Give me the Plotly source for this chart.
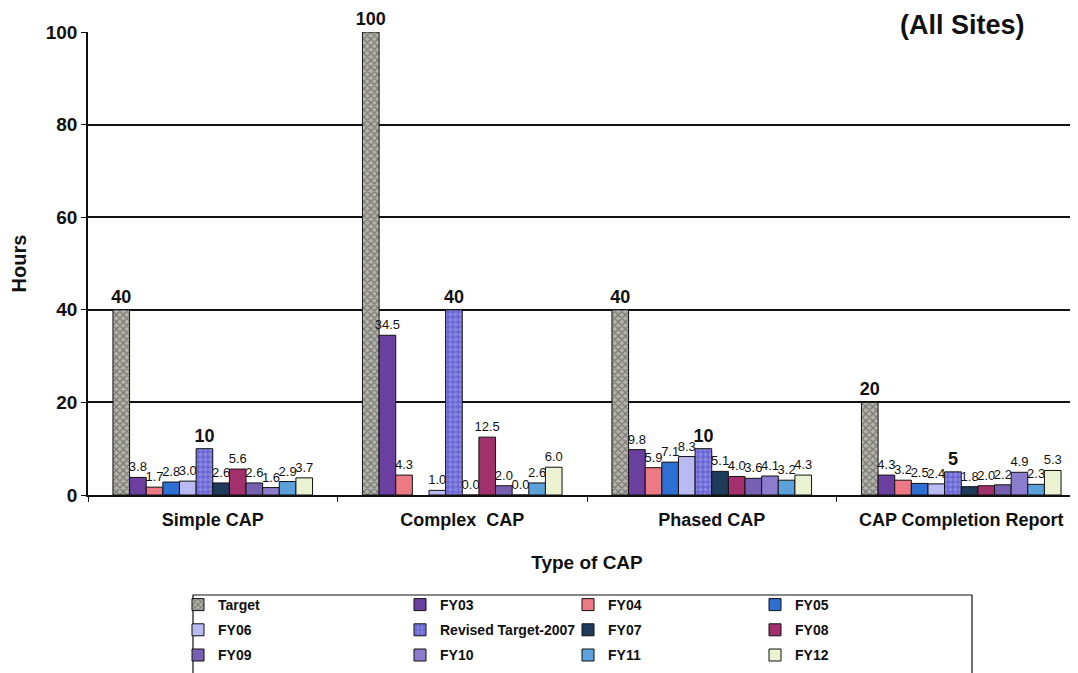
import plotly.graph_objects as go

# ── Data ──────────────────────────────────────────────────────────────────────
categories = ["Simple CAP", "Complex  CAP", "Phased CAP", "CAP Completion Report"]

target = [40, 100, 40, 20]
fy03 = [3.8, 34.5, 9.8, 4.3]
fy04 = [1.7, 4.3, 5.9, 3.2]
fy05 = [2.8, None, 7.1, 2.5]
fy06 = [3.0, 1.0, 8.3, 2.4]
revised_2007 = [10, 40, 10, 5]
fy07 = [2.6, 0.0, 5.1, 1.8]
fy08 = [5.6, 12.5, 4.0, 2.0]
fy09 = [2.6, 2.0, 3.6, 2.2]
fy10 = [1.6, 0.0, 4.1, 4.9]
fy11 = [2.9, 2.6, 3.2, 2.3]
fy12 = [3.7, 6.0, 4.3, 5.3]

FONT = "Liberation Sans, Arial, sans-serif"

# name, values, colour, pattern (shape, fg) or None, bold label, legend column
series = [
    ("Target", target, "#b4b4ac", ("x", "#3c3c3c"), True, "legend"),
    ("FY03", fy03, "#6a3fa0", None, False, "legend2"),
    ("FY04", fy04, "#ec7a84", None, False, "legend3"),
    ("FY05", fy05, "#2d6fd2", None, False, "legend4"),
    ("FY06", fy06, "#b9baf2", None, False, "legend"),
    ("Revised Target-2007", revised_2007, "#6b68d4", (".", "#a4a4f0"), True, "legend2"),
    ("FY07", fy07, "#1f3b5c", None, False, "legend3"),
    ("FY08", fy08, "#a2306c", None, False, "legend4"),
    ("FY09", fy09, "#7660b2", None, False, "legend"),
    ("FY10", fy10, "#8c7cce", None, False, "legend2"),
    ("FY11", fy11, "#5ba2da", None, False, "legend3"),
    ("FY12", fy12, "#eaf2d2", None, False, "legend4"),
]


def _label(v, bold):
    if v is None:
        return ""
    return f"{v:g}" if bold else f"{v:.1f}"


fig = go.Figure()

for name, vals, color, pattern, bold, leg in series:
    marker = dict(color=color, line=dict(color="#111111", width=1))
    if pattern:
        marker["pattern"] = dict(shape=pattern[0], fgcolor=pattern[1], bgcolor=color,
                                 size=5, solidity=0.45)
    fig.add_trace(
        go.Bar(
            x=categories,
            y=vals,
            name=name,
            legend=leg,
            legendgroup=name,
            marker=marker,
            text=[_label(v, bold) for v in vals],
            textposition="outside",
            constraintext="none",
            textfont=dict(size=18 if bold else 13, color="#111111", family=FONT,
                          weight="bold" if bold else "normal"),
            cliponaxis=False,
        )
    )

# plot area on screen: x 88..1086 px, y 32..495 px (page body adds 8 px offset)
PX0, PW, PY0, PH = 88, 998, 495, 463


def px(x):
    return (x - PX0) / PW


def py(y):
    return (PY0 - y) / PH


legend_style = dict(
    orientation="v",
    xanchor="left",
    yanchor="top",
    y=py(589),
    borderwidth=0,
    bgcolor="rgba(0,0,0,0)",
    font=dict(size=14, family=FONT, weight="bold", color="#111111"),
    itemwidth=30,
    tracegroupgap=4,
    traceorder="grouped",
)

fig.update_layout(
    width=1078,
    height=673,
    barmode="group",
    bargap=0.2,
    bargroupgap=0,
    plot_bgcolor="white",
    paper_bgcolor="white",
    margin=dict(l=80, r=0, t=24, b=186, autoexpand=False),
    font=dict(family=FONT, color="#111111"),
    title=dict(
        text="<b>(All Sites)</b>",
        x=0.943, xanchor="right", xref="container",
        y=0.975, yanchor="middle", yref="container",
        font=dict(size=27, family=FONT, color="#111111"),
    ),
    xaxis=dict(
        showline=True,
        linecolor="#111111",
        linewidth=1.5,
        ticks="outside",
        tickson="boundaries",
        ticklen=5,
        tickcolor="#111111",
        tickfont=dict(size=18, family=FONT, weight="bold"),
        ticklabelstandoff=8,
        title=dict(text="<b>Type of CAP</b>", font=dict(size=19), standoff=26),
    ),
    yaxis=dict(
        range=[0, 100],
        dtick=20,
        showgrid=True,
        gridcolor="#111111",
        gridwidth=1.8,
        showline=True,
        linecolor="#111111",
        linewidth=1.5,
        ticks="outside",
        ticklen=5,
        tickcolor="#111111",
        tickfont=dict(size=19, family=FONT, weight="bold"),
        zeroline=False,
        title=dict(text="<b>Hours</b>", font=dict(size=20), standoff=14),
    ),
    legend=dict(legend_style, x=px(178)),
    legend2=dict(legend_style, x=px(400)),
    legend3=dict(legend_style, x=px(568)),
    legend4=dict(legend_style, x=px(755)),
    shapes=[
        dict(type="rect", xref="paper", yref="paper",
             x0=px(193), x1=px(972), y0=py(678), y1=py(595),
             line=dict(color="#111111", width=1.2), fillcolor="rgba(0,0,0,0)"),
    ],
)

fig.write_html("out.html")
